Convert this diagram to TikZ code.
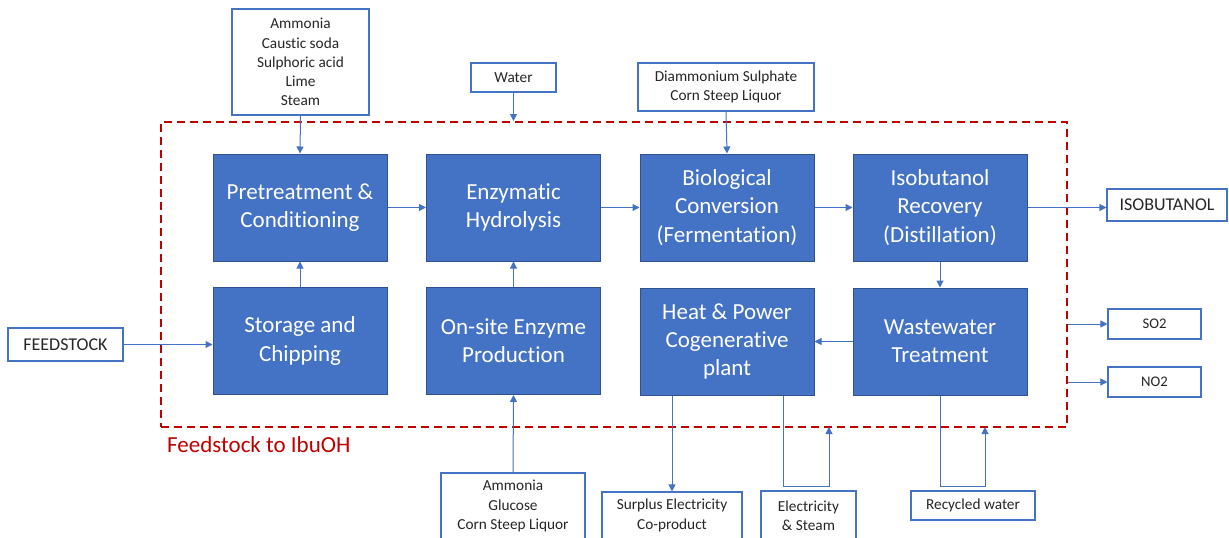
\documentclass[tikz,border=0pt]{standalone}
\usepackage{fontspec}
\setmainfont[Ligatures=NoCommon]{Carlito}
\usetikzlibrary{arrows.meta}
\definecolor{procblue}{HTML}{4472C4}
\definecolor{procedge}{HTML}{2F528F}
\definecolor{framered}{HTML}{C00000}
\definecolor{inktext}{HTML}{262626}

\begin{document}
\begin{tikzpicture}[x=1pt,y=-1pt,
  proc/.style={draw=procedge, line width=1pt, fill=procblue, text=white,
    minimum width=174pt, minimum height=107pt, inner sep=0pt, align=center,
    font=\fontsize{23}{28.3}\selectfont},
  inbox/.style={draw=procblue, line width=1.1pt, fill=white, text=inktext,
    inner sep=0pt, align=center, font=\fontsize{15.3}{19.2}\selectfont},
  flow/.style={draw=procblue, line width=1pt, -{Triangle[length=7pt,width=7pt]}},
]
\useasboundingbox (0,0) rectangle (1229,538);
\clip (0,0) rectangle (1229,538);

% plant boundary
\node[draw=framered, line width=2pt, dash pattern=on 8pt off 5pt,
  minimum width=906pt, minimum height=305pt, inner sep=0pt] (frame) at (614,274.5) {};
\node[anchor=base west, inner sep=0pt, text=framered,
  font=\fontsize{23}{28}\selectfont] (lbl) at (167,452) {Feedstock to IbuOH};

% process units
\node[proc] (pre)    at (300,207.5) {Pretreatment \&\\Conditioning};
\node[proc] (enz)    at (513.5,207.5) {Enzymatic\\Hydrolysis};
\node[proc] (bio)    at (727,207.5) {Biological\\Conversion\\(Fermentation)};
\node[proc] (iso)    at (940,207.5) {Isobutanol\\Recovery\\(Distillation)};
\node[proc] (stor)   at (300,341) {Storage and\\Chipping};
\node[proc] (onsite) at (513.5,341) {On-site Enzyme\\Production};
\node[proc] (heat)   at (727,341.5) {Heat \& Power\\Cogenerative\\plant};
\node[proc] (waste)  at (940,341.5) {Wastewater\\Treatment};

% inputs and outputs
\node[inbox, minimum width=137pt, minimum height=106pt] (chem) at (300.5,62)
  {Ammonia\\Caustic soda\\Sulphoric acid\\Lime\\Steam};
\node[inbox, minimum width=85pt, minimum height=29pt] (water) at (513.5,77.5) {Water};
\node[inbox, minimum width=176pt, minimum height=48pt] (dap) at (726,87)
  {Diammonium Sulphate\\Corn Steep Liquor};
\node[inbox, minimum width=115pt, minimum height=33pt,
  font=\fontsize{18}{22}\selectfont] (feed) at (65.5,344.5) {FEEDSTOCK};
\node[inbox, minimum width=120pt, minimum height=32pt,
  font=\fontsize{18}{22}\selectfont] (isoout) at (1167,205) {ISOBUTANOL};
\node[inbox, minimum width=93pt, minimum height=30pt,
  font=\fontsize{14.7}{18}\selectfont] (so2) at (1154.5,324) {SO2};
\node[inbox, minimum width=93pt, minimum height=30pt,
  font=\fontsize{14.7}{18}\selectfont] (no2) at (1154.5,382) {NO2};
\node[inbox, minimum width=144pt, minimum height=66pt] (amm) at (513,506)
  {Ammonia\\Glucose\\Corn Steep Liquor};
\node[inbox, minimum width=140pt, minimum height=47pt] (surplus) at (672,515.5)
  {Surplus Electricity\\Co-product};
\node[inbox, minimum width=95pt, minimum height=49pt] (elec) at (808.5,515.5)
  {Electricity\\\& Steam};
\node[inbox, minimum width=124pt, minimum height=29pt] (recyc) at (973,505.5)
  {Recycled water};

% free ends on the boundary
\coordinate (waterin) at (water.south |- frame.north);
\coordinate (hs) at ([xshift=56pt]heat.south);
\coordinate (heatret) at (829,427);
\coordinate (wateret) at (985,427);

% connectors
\draw[flow] (chem.south) -- (pre.north);
\draw[flow] (water.south) -- (waterin);
\draw[flow] (dap.south) -- (bio.north);
\draw[flow] (feed.east) -- (feed.east -| stor.west);
\draw[flow] (stor.north) -- (pre.south);
\draw[flow] (onsite.north) -- (enz.south);
\draw[flow] (pre.east) -- (enz.west);
\draw[flow] (enz.east) -- (bio.west);
\draw[flow] (bio.east) -- (iso.west);
\draw[flow] (iso.east) -- (iso.east -| isoout.west);
\draw[flow] (iso.south) -- (waste.north);
\draw[flow] (waste.west) -- (heat.east);
\draw[flow] (so2.west -| frame.east) -- (so2.west);
\draw[flow] (no2.west -| frame.east) -- (no2.west);
\draw[flow] (amm.north) -- (onsite.south);
\draw[flow] (surplus.north |- heat.south) -- (surplus.north);
\draw[flow] (hs) -- ++(0,91) -| (heatret);
\draw[flow] (waste.south) -- ++(0,91) -| (wateret);
\end{tikzpicture}
\end{document}
